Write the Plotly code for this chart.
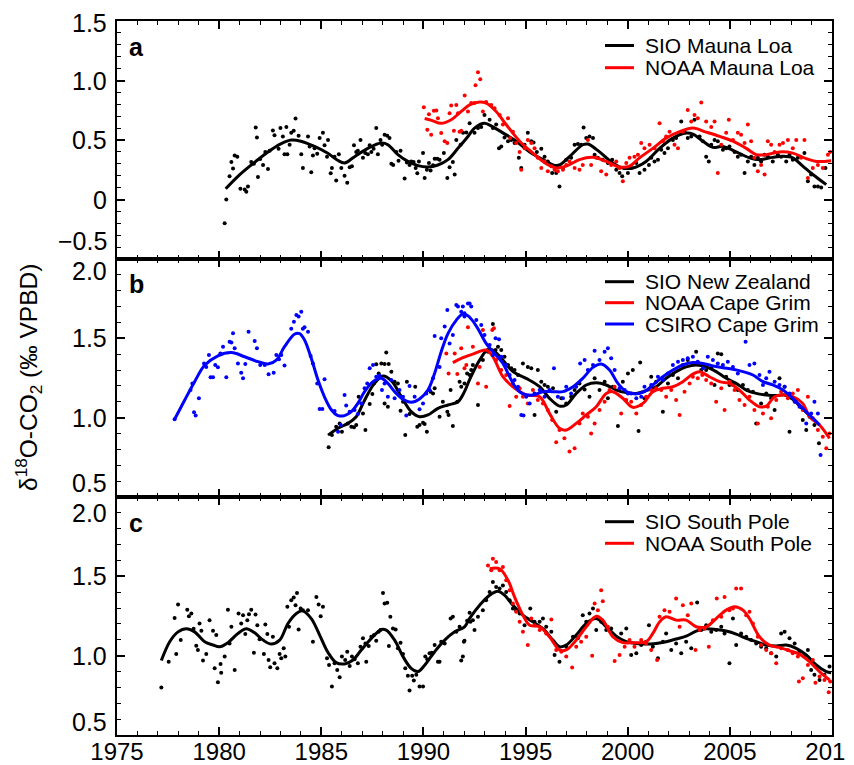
import plotly.graph_objects as go

# ---------------- DATA ----------------
# Panel a: Mauna Loa
ML_SIO_FIT = [(1980.32,0.09),(1980.92,0.195),(1981.57,0.29),(1982.39,0.40),(1983.04,0.47),(1983.53,0.50),(1984.0,0.49),
 (1984.67,0.446),(1985.3,0.39),(1985.8,0.33),(1986.14,0.307),(1986.63,0.36),(1987.28,0.43),(1987.94,0.474),(1988.26,0.46),
 (1988.75,0.377),(1989.24,0.32),(1989.73,0.285),(1990.22,0.273),(1990.71,0.29),(1991.2,0.335),(1991.69,0.43),(1992.18,0.53),
 (1992.5,0.60),(1992.99,0.64),(1993.4,0.61),(1993.89,0.56),(1994.54,0.49),(1995.2,0.40),(1995.85,0.335),(1996.42,0.287),
 (1996.66,0.29),(1997.15,0.36),(1997.8,0.46),(1998.05,0.466),(1998.62,0.40),(1999.27,0.307),(1999.76,0.265),(2000.25,0.265),
 (2000.9,0.32),(2001.56,0.43),(2002.21,0.516),(2002.86,0.558),(2003.19,0.55),(2003.68,0.49),(2004.17,0.438),(2004.66,0.446),
 (2005.31,0.40),(2005.96,0.35),(2006.45,0.335),(2007.1,0.354),(2007.6,0.363),(2008.08,0.35),(2008.57,0.28),(2009.06,0.21),
 (2009.72,0.125)]
ML_NOAA_FIT = [(1990.06,0.68),(1990.4,0.665),(1990.87,0.64),(1991.36,0.67),(1991.85,0.74),(1992.26,0.795),(1992.75,0.82),
 (1993.07,0.81),(1993.56,0.74),(1994.05,0.63),(1994.71,0.49),(1995.36,0.39),(1996.01,0.30),(1996.5,0.265),(1996.99,0.28),
 (1997.64,0.335),(1998.3,0.354),(1998.95,0.32),(1999.6,0.273),(2000.09,0.28),(2000.58,0.35),(2001.23,0.43),(2001.88,0.516),
 (2002.54,0.57),(2003.19,0.60),(2003.84,0.566),(2004.5,0.53),(2005.15,0.49),(2005.8,0.43),(2006.29,0.377),(2006.78,0.377),
 (2007.43,0.40),(2008.08,0.39),(2008.74,0.343),(2009.23,0.32),(2009.96,0.326)]
ML_SIO_PTS = [(1980.27,-0.20),(1980.35,0.0),(1980.51,0.195),(1980.6,0.315),(1980.68,0.26),(1980.76,0.37),(1980.89,0.36),
 (1981.04,0.09),(1981.25,0.085),(1981.33,0.065),(1981.41,0.11),(1981.57,0.315),(1981.7,0.30),(1981.79,0.605),(1981.85,0.52),
 (1981.9,0.19),(1982.01,0.34),(1982.15,0.29),(1982.26,0.40),(1982.39,0.257),(1982.47,0.41),(1982.63,0.58),(1982.71,0.54),
 (1982.91,0.427),(1983.0,0.60),(1983.12,0.53),(1983.2,0.38),(1983.29,0.61),(1983.34,0.38),(1983.45,0.46),(1983.53,0.56),
 (1983.65,0.577),(1983.74,0.68),(1983.89,0.535),(1984.02,0.38),(1984.1,0.265),(1984.35,0.53),(1984.43,0.446),(1984.51,0.23),
 (1984.59,0.37),(1984.67,0.43),(1984.8,0.385),(1984.92,0.516),(1985.08,0.56),(1985.16,0.455),(1985.28,0.36),(1985.33,0.50),
 (1985.46,0.22),(1985.52,0.265),(1985.65,0.36),(1985.73,0.16),(1985.86,0.38),(1985.98,0.265),(1986.14,0.20),(1986.27,0.14),
 (1986.39,0.27),(1986.5,0.28),(1986.6,0.455),(1986.71,0.40),(1986.79,0.41),(1986.92,0.50),(1987.04,0.35),(1987.15,0.39),
 (1987.28,0.38),(1987.37,0.455),(1987.45,0.40),(1987.56,0.427),(1987.69,0.60),(1987.77,0.38),(1987.9,0.50),(1987.98,0.46),
 (1988.1,0.544),(1988.23,0.535),(1988.34,0.516),(1988.43,0.30),(1988.52,0.29),(1988.67,0.40),(1988.78,0.326),(1988.88,0.41),
 (1989.08,0.176),(1989.19,0.31),(1989.32,0.29),(1989.4,0.32),(1989.52,0.315),(1989.62,0.265),(1989.7,0.22),(1989.78,0.32),
 (1989.98,0.39),(1990.06,0.18),(1990.17,0.25),(1990.27,0.307),(1990.35,0.243),(1990.47,0.287),(1990.55,0.343),(1990.68,0.343),
 (1990.79,0.335),(1991.0,0.39),(1991.17,0.18),(1991.28,0.27),(1991.44,0.315),(1991.53,0.21),(1991.61,0.50),(1991.82,0.46),
 (1991.94,0.56),(1992.1,0.563),(1992.26,0.64),(1992.5,0.56),(1992.67,0.60),(1992.83,0.61),(1992.99,0.71),(1993.24,0.67),
 (1993.4,0.60),(1993.56,0.63),(1993.7,0.43),(1993.81,0.446),(1993.97,0.52),(1994.14,0.49),(1994.3,0.50),(1994.46,0.474),
 (1994.67,0.35),(1994.79,0.265),(1994.95,0.46),(1995.11,0.56),(1995.28,0.49),(1995.39,0.48),(1995.55,0.40),(1995.77,0.427),
 (1995.93,0.36),(1996.09,0.32),(1996.3,0.223),(1996.5,0.223),(1996.66,0.11),(1996.83,0.265),(1996.99,0.335),(1997.23,0.35),
 (1997.4,0.46),(1997.56,0.466),(1997.72,0.46),(1997.84,0.605),(1997.97,0.516),(1998.13,0.53),(1998.3,0.516),(1998.38,0.377),
 (1998.54,0.35),(1998.78,0.335),(1999.03,0.307),(1999.24,0.335),(1999.44,0.25),(1999.6,0.223),(1999.73,0.195),(1999.85,0.265),
 (2000.01,0.223),(2000.17,0.265),(2000.42,0.307),(2000.58,0.223),(2000.82,0.25),(2001.04,0.29),(2001.15,0.35),(2001.31,0.32),
 (2001.48,0.335),(2001.64,0.418),(2001.8,0.39),(2001.97,0.43),(2002.21,0.50),(2002.37,0.516),(2002.62,0.655),(2002.78,0.57),
 (2002.94,0.516),(2003.11,0.53),(2003.27,0.67),(2003.52,0.53),(2003.68,0.49),(2003.84,0.36),(2003.97,0.32),(2004.09,0.46),
 (2004.25,0.50),(2004.41,0.49),(2004.66,0.418),(2004.82,0.43),(2004.98,0.446),(2005.23,0.40),(2005.39,0.36),(2005.55,0.377),
 (2005.72,0.223),(2005.88,0.32),(2006.04,0.36),(2006.2,0.29),(2006.37,0.35),(2006.53,0.32),(2006.7,0.377),(2006.86,0.36),
 (2007.1,0.32),(2007.35,0.377),(2007.51,0.36),(2007.76,0.32),(2007.92,0.377),(2008.08,0.335),(2008.33,0.35),(2008.65,0.39),
 (2008.82,0.153),(2008.98,0.21),(2009.14,0.11),(2009.31,0.11),(2009.47,0.10),(2009.68,0.265)]
ML_NOAA_PTS = [(1990.02,0.775),(1990.19,0.586),(1990.27,0.717),(1990.38,0.544),(1990.51,0.745),(1990.63,0.748),(1990.71,0.683),
 (1990.87,0.558),(1991.04,0.49),(1991.17,0.474),(1991.28,0.725),(1991.36,0.79),(1991.49,0.577),(1991.61,0.795),(1991.69,0.725),
 (1991.77,0.57),(1991.85,0.577),(1992.02,0.873),(1992.18,0.74),(1992.34,0.81),(1992.5,0.81),(1992.55,0.96),(1992.67,1.07),
 (1992.78,1.01),(1992.91,0.74),(1993.07,0.82),(1993.32,0.795),(1993.48,0.767),(1993.73,0.71),(1993.89,0.63),(1994.14,0.683),
 (1994.25,0.516),(1994.38,0.57),(1994.54,0.474),(1994.71,0.40),(1994.79,0.25),(1994.95,0.43),(1995.11,0.50),(1995.28,0.474),
 (1995.44,0.43),(1995.6,0.35),(1995.77,0.265),(1995.93,0.32),(1996.09,0.237),(1996.26,0.28),(1996.42,0.25),(1996.58,0.237),
 (1996.83,0.25),(1996.99,0.29),(1997.15,0.32),(1997.4,0.265),(1997.64,0.25),(1997.8,0.29),(1998.05,0.50),(1998.21,0.29),
 (1998.46,0.35),(1998.7,0.237),(1998.95,0.21),(1999.19,0.29),(1999.44,0.32),(1999.6,0.265),(1999.76,0.153),(1999.93,0.307),
 (2000.09,0.35),(2000.33,0.36),(2000.5,0.377),(2000.66,0.474),(2000.82,0.43),(2001.07,0.46),(2001.31,0.43),(2001.56,0.64),
 (2001.72,0.49),(2001.88,0.53),(2002.05,0.57),(2002.29,0.46),(2002.46,0.43),(2002.7,0.57),(2002.94,0.753),(2003.11,0.655),
 (2003.27,0.71),(2003.43,0.683),(2003.6,0.815),(2003.84,0.655),(2004.09,0.61),(2004.25,0.655),(2004.41,0.223),(2004.58,0.46),
 (2004.82,0.56),(2004.95,0.67),(2005.15,0.50),(2005.39,0.56),(2005.55,0.544),(2005.72,0.474),(2005.88,0.63),(2006.04,0.49),
 (2006.2,0.35),(2006.37,0.237),(2006.53,0.29),(2006.7,0.21),(2006.86,0.49),(2007.02,0.46),(2007.19,0.40),(2007.43,0.46),
 (2007.6,0.474),(2007.84,0.50),(2008.08,0.43),(2008.25,0.50),(2008.49,0.35),(2008.65,0.50),(2008.82,0.18),(2009.06,0.265),
 (2009.31,0.29),(2009.55,0.265),(2009.8,0.377),(2009.91,0.40)]

# Panel b: New Zealand / Cape Grim
NZ_SIO_FIT = [(1985.33,0.89),(1985.82,0.933),(1986.3,0.964),(1986.71,1.006),(1987.12,1.11),(1987.6,1.216),(1988.02,1.263),
 (1988.43,1.233),(1988.92,1.132),(1989.4,1.038),(1989.81,1.006),(1990.22,1.017),(1990.71,1.059),(1991.2,1.08),(1991.69,1.10),
 (1992.01,1.164),(1992.26,1.24),(1992.75,1.363),(1993.16,1.43),(1993.4,1.426),(1993.89,1.363),(1994.38,1.29),(1995.03,1.248),
 (1995.69,1.195),(1996.17,1.122),(1996.66,1.073),(1996.99,1.08),(1997.48,1.153),(1997.97,1.206),(1998.46,1.22),(1998.95,1.206),
 (1999.44,1.174),(1999.93,1.158),(2000.42,1.153),(2000.9,1.17),(2001.39,1.195),(2001.88,1.248),(2002.37,1.29),(2002.86,1.32),
 (2003.35,1.332),(2003.84,1.32),(2004.33,1.29),(2004.82,1.248),(2005.31,1.216),(2005.8,1.174),(2006.29,1.153),(2006.78,1.143),
 (2007.27,1.139),(2007.68,1.143),(2008.08,1.116),(2008.57,1.053),(2009.06,0.996),(2009.39,0.954)]
CG_NOAA_FIT = [(1991.44,1.347),(1991.85,1.374),(1992.42,1.40),(1993.07,1.426),(1993.4,1.384),(1993.89,1.258),(1994.38,1.195),
 (1995.03,1.143),(1995.69,1.132),(1996.17,1.027),(1996.66,0.933),(1996.99,0.922),(1997.48,0.964),(1997.97,1.017),(1998.46,1.069),
 (1998.95,1.153),(1999.27,1.164),(1999.76,1.122),(2000.25,1.065),(2000.74,1.09),(2001.23,1.164),(2001.72,1.185),(2002.21,1.195),
 (2002.7,1.227),(2003.19,1.275),(2003.52,1.29),(2004.0,1.258),(2004.5,1.227),(2004.98,1.216),(2005.47,1.174),(2005.96,1.111),
 (2006.45,1.069),(2006.78,1.073),(2007.19,1.132),(2007.6,1.143),(2008.08,1.132),(2008.57,1.09),(2008.9,1.006),(2009.39,0.954),
 (2009.88,0.87)]
CG_CSIRO_FIT = [(1977.82,0.99),(1978.31,1.11),(1978.8,1.227),(1979.29,1.33),(1979.94,1.39),(1980.6,1.41),(1981.25,1.384),
 (1981.9,1.353),(1982.39,1.338),(1982.8,1.363),(1983.2,1.447),(1983.7,1.527),(1983.94,1.53),(1984.18,1.49),(1984.51,1.374),
 (1984.84,1.237),(1985.16,1.13),(1985.49,1.05),(1985.82,1.013),(1986.14,1.013),(1986.47,1.038),(1986.79,1.09),(1987.12,1.164),
 (1987.53,1.227),(1987.94,1.248),(1988.26,1.216),(1988.59,1.164),(1989.0,1.116),(1989.4,1.097),(1989.81,1.118),(1990.22,1.174),
 (1990.55,1.28),(1990.87,1.416),(1991.2,1.53),(1991.61,1.615),(1991.95,1.655),(1992.2,1.64),(1992.5,1.595),(1992.75,1.542),
 (1993.07,1.468),(1993.4,1.416),(1993.89,1.342),(1994.22,1.258),(1994.54,1.185),(1994.87,1.15),(1995.36,1.143),(1995.85,1.164),
 (1996.34,1.164),(1996.83,1.164),(1997.32,1.195),(1997.8,1.248),(1998.3,1.317),(1998.7,1.338),(1999.11,1.30),(1999.52,1.216),
 (1999.93,1.164),(2000.33,1.15),(2000.82,1.164),(2001.23,1.206),(2001.72,1.258),(2002.21,1.30),(2002.7,1.332),(2003.19,1.347),
 (2003.68,1.342),(2004.17,1.326),(2004.66,1.315),(2005.15,1.305),(2005.64,1.29),(2006.13,1.269),(2006.62,1.227),(2007.1,1.206),
 (2007.6,1.174),(2008.08,1.122),(2008.57,1.059),(2009.06,0.996),(2009.39,0.954)]
NZ_SIO_PTS = [(1985.36,0.813),(1985.52,0.89),(1985.73,0.943),(1985.9,0.964),(1986.01,0.912),(1986.3,0.964),(1986.47,0.943),
 (1986.6,0.939),(1986.71,0.954),(1986.83,1.132),(1987.04,1.027),(1987.16,0.922),(1987.37,1.086),(1987.5,1.149),(1987.58,1.216),
 (1987.69,1.336),(1987.81,1.279),(1987.94,1.342),(1988.1,1.338),(1988.18,1.41),(1988.3,1.338),(1988.43,1.29),(1988.1,1.09),
 (1988.26,1.069),(1988.59,1.227),(1988.75,1.216),(1988.88,1.044),(1989.0,1.10),(1989.11,0.89),(1989.19,1.227),(1989.32,1.023),
 (1989.6,1.195),(1989.7,0.943),(1989.81,0.954),(1989.98,0.968),(1990.06,0.96),(1990.17,0.912),(1990.35,1.164),(1990.47,1.153),
 (1990.55,1.185),(1990.79,1.006),(1990.95,1.10),(1991.17,1.038),(1991.23,1.017),(1991.33,1.174),(1991.44,0.947),(1991.66,1.10),
 (1991.77,1.227),(1991.85,1.195),(1992.14,1.279),(1992.34,1.30),(1992.01,1.216),(1992.26,1.269),(1992.42,1.332),(1992.67,1.08),
 (1992.91,1.363),(1993.16,1.416),(1993.4,1.59),(1993.53,1.426),(1993.65,1.447),(1993.81,1.426),(1993.97,1.384),(1994.14,1.332),
 (1994.3,1.311),(1994.46,1.30),(1994.63,1.269),(1994.87,1.342),(1995.11,1.32),(1995.28,1.311),(1995.44,1.017),(1995.6,1.30),
 (1995.77,1.227),(1995.93,1.206),(1996.09,1.195),(1996.34,1.185),(1996.5,1.038),(1996.75,1.122),(1996.99,1.09),(1997.23,1.132),
 (1997.4,1.174),(1997.64,1.216),(1997.89,1.178),(1998.13,1.132),(1998.38,1.248),(1998.62,1.174),(1998.87,1.227),(1999.03,1.122),
 (1999.27,1.195),(1999.52,0.947),(1999.76,1.227),(2000.01,1.279),(2000.25,1.30),(2000.53,0.916),(2000.61,1.347),(2000.82,1.122),
 (2001.15,1.258),(2001.39,1.227),(2001.72,1.038),(2001.97,1.216),(2002.21,1.269),(2002.46,1.248),(2002.7,1.332),(2002.94,1.363),
 (2003.19,1.342),(2003.35,1.416),(2003.6,1.30),(2003.84,1.30),(2004.09,1.311),(2004.25,1.206),(2004.41,1.405),(2004.58,1.40),
 (2004.82,1.258),(2004.98,1.206),(2005.15,1.206),(2005.39,1.174),(2005.64,1.206),(2005.88,1.174),(2006.13,1.164),(2006.29,0.964),
 (2006.53,1.09),(2006.78,1.153),(2007.02,1.122),(2007.19,1.048),(2007.43,1.248),(2007.68,1.195),(2007.92,0.912),(2008.25,1.10),
 (2008.57,0.985),(2008.74,0.922),(2008.9,1.006),(2009.14,0.954),(2009.36,0.838)]
CG_NOAA_PTS = [(1991.12,1.405),(1991.23,1.279),(1991.53,1.405),(1991.66,1.275),(1991.85,1.437),(1992.01,1.311),(1992.18,1.57),
 (1992.1,1.332),(1992.42,1.447),(1992.67,1.216),(1992.75,1.32),(1992.91,1.553),(1993.07,1.195),(1993.37,1.553),(1993.45,1.563),
 (1993.56,1.363),(1993.81,1.30),(1994.05,1.269),(1994.22,1.073),(1994.38,1.216),(1994.54,1.132),(1994.71,1.185),(1994.87,1.132),
 (1995.11,1.09),(1995.36,1.174),(1995.6,1.111),(1995.85,1.09),(1996.09,1.048),(1996.3,0.985),(1996.5,0.845),(1996.66,0.922),
 (1996.9,0.87),(1997.15,0.786),(1997.4,0.807),(1997.64,0.964),(1997.8,1.027),(1998.05,1.006),(1998.21,0.90),(1998.38,0.964),
 (1998.62,1.048),(1998.87,1.10),(1999.11,1.174),(1999.36,1.195),(1999.68,1.027),(1999.93,1.111),(2000.17,1.10),(2000.42,1.027),
 (2000.66,1.08),(2000.9,1.132),(2001.15,1.174),(2001.39,1.185),(2001.64,1.174),(2001.88,1.132),(2002.13,1.174),(2002.37,1.111),
 (2002.54,1.017),(2002.78,1.164),(2003.03,1.216),(2003.19,1.258),(2003.43,1.248),(2003.65,1.269),(2003.84,1.237),(2004.09,1.216),
 (2004.33,1.10),(2004.58,1.185),(2004.74,1.048),(2004.98,1.227),(2005.23,1.174),(2005.47,1.111),(2005.72,1.08),(2005.96,1.132),
 (2006.2,1.048),(2006.37,0.964),(2006.62,1.027),(2006.86,1.069),(2007.02,0.996),(2007.27,1.111),(2007.51,1.164),(2007.84,1.122),
 (2008.08,1.153),(2008.33,1.174),(2008.57,1.048),(2008.82,1.132),(2009.06,0.996),(2009.31,0.922),(2009.55,0.88),(2009.72,0.807),
 (2009.88,0.90)]
CG_CSIRO_PTS = [(1977.82,0.99),(1978.6,1.174),(1978.69,1.216),(1978.77,1.034),(1978.85,1.013),(1979.01,1.122),(1979.26,1.342),
 (1979.37,1.32),(1979.5,1.395),(1979.58,1.254),(1979.7,1.254),(1979.81,1.332),(1979.94,1.317),(1980.06,1.405),(1980.19,1.447),
 (1980.35,1.254),(1980.51,1.479),(1980.6,1.473),(1980.68,1.532),(1980.76,1.437),(1980.92,1.342),(1981.08,1.283),(1981.17,1.248),
 (1981.28,1.338),(1981.44,1.542),(1981.74,1.483),(1981.85,1.437),(1982.01,1.332),(1982.23,1.332),(1982.42,1.273),(1982.67,1.283),
 (1982.8,1.395),(1982.93,1.368),(1983.04,1.395),(1983.2,1.328),(1983.53,1.56),(1983.66,1.605),(1983.78,1.647),(1983.89,1.637),
 (1984.02,1.668),(1984.1,1.56),(1984.18,1.57),(1984.35,1.542),(1984.48,1.389),(1984.59,1.342),(1984.8,1.216),(1984.92,1.055),
 (1985.05,1.055),(1985.16,1.242),(1985.65,1.042),(1985.82,0.912),(1985.95,0.954),(1986.14,1.143),(1986.22,1.076),(1986.39,1.038),
 (1986.63,1.048),(1986.79,1.023),(1986.96,1.09),(1987.12,1.185),(1987.25,1.216),(1987.37,1.311),(1987.53,1.332),(1987.69,1.258),
 (1987.85,1.265),(1987.97,1.174),(1988.1,1.216),(1988.26,1.132),(1988.43,1.237),(1988.59,1.122),(1988.83,1.174),(1989.0,1.132),
 (1989.16,1.013),(1989.32,1.20),(1989.57,1.132),(1989.81,1.053),(1989.98,1.09),(1990.14,1.153),(1990.3,1.174),(1990.47,1.248),
 (1990.55,1.515),(1990.79,1.32),(1990.87,1.50),(1991.04,1.574),(1991.17,1.679),(1991.28,1.468),(1991.44,1.521),(1991.61,1.71),
 (1991.69,1.70),(1991.85,1.668),(1992.01,1.658),(1992.26,1.72),(1991.93,1.70),(1992.18,1.72),(1992.34,1.70),(1992.01,1.637),
 (1992.59,1.615),(1992.83,1.584),(1992.99,1.521),(1993.24,1.458),(1993.53,1.50),(1993.7,1.494),(1993.4,1.395),(1993.81,1.384),
 (1994.05,1.332),(1994.22,1.269),(1994.46,1.237),(1994.63,1.195),(1994.79,1.017),(1994.9,1.013),(1995.03,1.132),(1995.2,1.09),
 (1995.44,1.153),(1995.69,1.174),(1995.93,1.132),(1996.17,1.174),(1996.39,1.311),(1996.58,1.132),(1996.83,1.122),(1996.99,1.195),
 (1997.23,1.153),(1997.48,1.195),(1997.67,1.342),(1997.89,1.363),(1998.05,1.30),(1998.3,1.332),(1998.38,1.422),(1998.62,1.363),
 (1998.87,1.416),(1999.03,1.437),(1999.19,1.374),(1999.36,1.30),(1999.6,1.185),(1999.85,1.174),(2000.01,1.153),(2000.17,1.153),
 (2000.42,1.122),(2000.66,1.132),(2000.82,1.195),(2001.15,1.206),(2001.48,1.258),(2001.72,1.237),(2001.97,1.279),(2002.21,1.332),
 (2002.46,1.353),(2002.7,1.363),(2002.94,1.374),(2003.19,1.384),(2003.43,1.353),(2003.68,1.311),(2003.92,1.384),(2004.17,1.363),
 (2004.41,1.342),(2004.66,1.332),(2004.9,1.353),(2005.15,1.32),(2005.39,1.279),(2005.77,1.479),(2005.96,1.332),(2006.2,1.342),
 (2006.45,1.269),(2006.62,1.206),(2006.78,1.248),(2006.94,1.29),(2007.19,1.227),(2007.43,1.206),(2007.68,1.195),(2007.92,1.153),
 (2008.17,1.10),(2008.41,1.069),(2008.74,0.964),(2008.98,1.027),(2009.14,1.10),(2009.31,1.027),(2009.44,0.765)]

# Panel c: South Pole
SP_SIO_FIT = [(1977.17,0.969),(1977.58,1.088),(1977.99,1.15),(1978.39,1.17),(1978.8,1.15),(1979.29,1.088),(1979.7,1.067),
 (1980.02,1.056),(1980.43,1.082),(1980.92,1.14),(1981.33,1.17),(1981.74,1.144),(1982.15,1.098),(1982.55,1.073),(1982.96,1.098),
 (1983.37,1.203),(1983.78,1.266),(1984.1,1.282),(1984.51,1.234),(1984.92,1.13),(1985.33,1.02),(1985.73,0.956),(1986.14,0.948),
 (1986.55,0.973),(1986.96,1.036),(1987.45,1.109),(1987.94,1.165),(1988.18,1.161),(1988.59,1.098),(1989.0,0.994),(1989.4,0.92),
 (1989.73,0.90),(1990.06,0.94),(1990.55,1.025),(1991.04,1.098),(1991.53,1.15),(1992.01,1.182),(1992.26,1.235),(1992.75,1.318),
 (1993.24,1.381),(1993.65,1.406),(1993.97,1.381),(1994.38,1.318),(1994.87,1.255),(1995.36,1.213),(1995.85,1.17),(1996.34,1.098),
 (1996.66,1.056),(1996.99,1.067),(1997.48,1.13),(1997.97,1.203),(1998.46,1.234),(1998.95,1.182),(1999.44,1.123),(1999.93,1.088),
 (2000.42,1.077),(2000.9,1.073),(2001.39,1.077),(2001.88,1.088),(2002.37,1.105),(2002.86,1.123),(2003.35,1.155),(2003.84,1.17),
 (2004.33,1.165),(2004.82,1.155),(2005.31,1.136),(2005.8,1.109),(2006.29,1.088),(2006.78,1.067),(2007.27,1.061),(2007.76,1.067),
 (2008.25,1.046),(2008.74,1.004),(2009.23,0.941),(2009.72,0.90),(2009.96,0.893)]
SP_NOAA_FIT = [(1993.24,1.548),(1993.73,1.548),(1994.14,1.475),(1994.46,1.37),(1994.87,1.255),(1995.2,1.192),(1995.69,1.182),
 (1996.17,1.119),(1996.66,1.036),(1996.99,1.036),(1997.48,1.098),(1997.97,1.182),(1998.46,1.249),(1998.78,1.224),(1999.27,1.119),
 (1999.76,1.082),(2000.25,1.082),(2000.9,1.088),(2001.23,1.14),(2001.56,1.213),(2001.88,1.245),(2002.37,1.224),(2002.86,1.224),
 (2003.35,1.182),(2003.84,1.182),(2004.33,1.234),(2004.82,1.287),(2005.23,1.308),(2005.64,1.287),(2005.96,1.234),(2006.45,1.119),
 (2006.94,1.067),(2007.43,1.052),(2007.92,1.031),(2008.41,1.01),(2008.9,0.962),(2009.39,0.90),(2009.88,0.847)]
SP_SIO_PTS = [(1977.17,0.80),(1977.53,0.962),(1977.82,1.238),(1977.9,1.01),(1977.99,1.322),(1978.12,1.098),(1978.44,1.29),
 (1978.52,1.249),(1978.64,1.266),(1978.75,1.17),(1978.88,1.063),(1978.96,1.036),(1979.04,1.203),(1979.13,1.157),(1979.21,0.969),
 (1979.37,1.01),(1979.53,1.224),(1979.7,1.157),(1979.78,0.92),(1979.86,1.13),(1979.94,0.833),(1980.07,0.948),(1980.1,0.893),
 (1980.27,0.994),(1980.43,1.29),(1980.51,1.077),(1980.6,1.182),(1980.76,0.91),(1980.95,1.266),(1981.08,1.203),(1981.17,1.255),
 (1981.28,1.136),(1981.38,1.224),(1981.46,1.261),(1981.57,1.29),(1981.7,1.019),(1981.78,1.259),(1981.87,1.192),(1981.98,1.103),
 (1982.19,1.01),(1982.26,1.197),(1982.36,1.136),(1982.42,0.973),(1982.5,0.927),(1982.63,1.119),(1982.71,0.952),(1982.85,0.92),
 (1982.96,1.01),(1983.04,0.983),(1983.16,1.046),(1983.24,0.994),(1983.34,1.308),(1983.42,1.182),(1983.53,1.349),(1983.65,1.366),
 (1983.74,1.318),(1983.81,1.395),(1983.89,1.165),(1983.99,1.297),(1984.1,1.287),(1984.35,1.287),(1984.59,1.088),(1984.76,1.37),
 (1984.87,1.322),(1984.97,1.249),(1985.08,1.308),(1985.28,0.983),(1985.38,0.941),(1985.52,0.805),(1985.65,0.952),(1985.78,0.91),
 (1985.9,0.864),(1986.01,0.994),(1986.17,0.973),(1986.27,1.025),(1986.39,0.935),(1986.5,0.994),(1986.63,0.977),(1986.79,0.952),
 (1986.92,1.056),(1987.04,1.109),(1987.16,1.077),(1987.2,0.962),(1987.32,1.061),(1987.45,1.119),(1987.58,1.13),(1987.69,1.094),
 (1987.81,1.151),(1987.9,1.161),(1988.02,1.395),(1988.1,1.328),(1988.23,1.333),(1988.31,1.061),(1988.38,1.245),(1988.51,1.172),
 (1988.64,1.165),(1988.75,1.046),(1988.88,1.082),(1989.0,1.01),(1989.11,0.92),(1989.24,0.874),(1989.32,0.78),(1989.45,0.874),
 (1989.53,0.843),(1989.65,0.879),(1989.81,0.805),(1989.98,0.805),(1990.09,0.994),(1990.19,0.977),(1990.3,1.015),(1990.41,1.019),
 (1990.55,1.067),(1990.71,0.962),(1990.79,0.962),(1990.87,1.088),(1991.04,1.077),(1991.33,1.234),(1991.44,1.245),(1991.61,1.151),
 (1991.77,1.182),(1991.85,0.969),(1991.98,1.088),(1992.14,1.22),(1992.26,1.27),(1992.42,1.224),(1991.93,0.994),(1992.01,1.094),
 (1992.3,1.213),(1992.5,1.161),(1992.67,1.245),(1992.91,1.287),(1993.07,1.349),(1993.24,1.402),(1993.4,1.464),(1993.56,1.433),
 (1993.73,1.423),(1993.89,1.443),(1994.05,1.402),(1994.22,1.349),(1994.38,1.297),(1994.54,1.287),(1994.71,1.266),(1994.95,1.192),
 (1995.23,1.297),(1995.44,1.213),(1995.69,1.213),(1995.85,1.234),(1996.01,1.182),(1996.26,1.151),(1996.42,1.004),(1996.66,0.962),
 (1996.99,1.056),(1997.32,1.119),(1997.56,1.109),(1997.8,1.255),(1997.97,1.213),(1998.13,1.266),(1998.3,1.297),(1998.46,1.161),
 (1998.7,1.213),(1998.95,1.161),(1999.19,1.172),(1999.44,1.109),(1999.68,1.14),(1999.93,1.172),(2000.17,1.004),(2000.42,1.015),
 (2000.66,1.067),(2000.9,1.088),(2001.04,1.192),(2001.23,1.056),(2001.48,0.983),(2001.72,1.088),(2001.88,1.14),(2002.13,1.036),
 (2002.37,1.077),(2002.62,1.015),(2002.86,1.088),(2003.11,1.046),(2003.4,1.335),(2003.6,1.161),(2003.84,1.192),(2004.09,1.151),
 (2004.33,1.161),(2004.58,1.182),(2004.74,1.14),(2004.98,0.952),(2005.15,1.234),(2005.31,1.067),(2005.55,1.14),(2005.8,1.119),
 (2006.04,1.098),(2006.29,1.077),(2006.53,1.056),(2006.78,1.046),(2007.02,1.015),(2007.27,0.994),(2007.51,1.14),(2007.68,1.151),
 (2007.92,1.109),(2008.17,1.077),(2008.41,1.025),(2008.65,0.994),(2008.82,1.036),(2008.98,0.91),(2009.14,0.879),(2009.39,0.847),
 (2009.63,0.879),(2009.88,0.931)]
SP_NOAA_PTS = [(1993.16,1.569),(1993.32,1.538),(1993.4,1.611),(1993.56,1.59),(1993.73,1.538),(1993.89,1.559),(1994.05,1.475),
 (1994.22,1.412),(1994.38,1.328),(1994.54,1.276),(1994.71,1.213),(1994.87,1.151),(1995.11,1.067),(1995.28,1.234),(1995.44,1.192),
 (1995.69,1.161),(1996.01,1.14),(1996.26,1.228),(1996.5,1.036),(1996.75,1.025),(1996.99,0.994),(1997.28,0.925),(1997.48,1.056),
 (1997.72,1.088),(1997.97,1.119),(1998.26,1.0),(1998.38,1.328),(1998.54,1.287),(1998.7,1.412),(1998.78,1.343),(1999.03,1.182),
 (1999.36,0.967),(1999.6,1.004),(1999.85,1.056),(2000.09,1.098),(2000.33,1.056),(2000.66,1.098),(2000.9,1.077),(2001.15,1.036),
 (2001.44,0.973),(2001.56,1.245),(2001.8,1.287),(2002.05,1.276),(2002.37,1.36),(2002.54,1.182),(2002.7,1.318),(2002.94,1.255),
 (2003.11,1.328),(2003.32,1.036),(2003.52,1.161),(2003.76,1.172),(2003.97,1.056),(2004.17,1.224),(2004.36,1.36),(2004.58,1.245),
 (2004.74,1.37),(2004.98,1.287),(2005.15,1.297),(2005.31,1.423),(2005.55,1.423),(2005.8,1.255),(2005.96,1.276),(2006.13,1.203),
 (2006.37,1.119),(2006.53,1.067),(2006.78,1.036),(2007.02,1.015),(2007.27,0.952),(2007.51,1.046),(2007.84,1.036),(2008.08,1.015),
 (2008.33,0.994),(2008.38,0.837),(2008.57,0.858),(2008.82,0.941),(2009.06,0.973),(2009.19,0.83),(2009.39,0.868),(2009.63,0.847),
 (2009.84,0.77),(2009.91,0.837)]

PANEL_LABELS = ["a", "b", "c"]
X_TICKS = [1975, 1980, 1985, 1990, 1995, 2000, 2005, 2010]
Y_TICKS_A = [-0.5, 0, 0.5, 1.0, 1.5]
Y_TEXT_A = ["\u22120.5", "0", "0.5", "1.0", "1.5"]
Y_TICKS_BC = [0.5, 1.0, 1.5, 2.0]
Y_TEXT_BC = ["0.5", "1.0", "1.5", "2.0"]
LEGEND_A = [("SIO Mauna Loa", "#000000"), ("NOAA Mauna Loa", "#ff0000")]
LEGEND_B = [("SIO New Zealand", "#000000"), ("NOAA Cape Grim", "#ff0000"), ("CSIRO Cape Grim", "#0000ff")]
LEGEND_C = [("SIO South Pole", "#000000"), ("NOAA South Pole", "#ff0000")]

# ---------------- FIGURE ----------------
FONT = "Liberation Sans, Arial, sans-serif"
BLACK, RED, BLUE = "#000000", "#ff0000", "#0000ff"
W, H = 854, 765
PAGE_OFF = 8                     # default body margin of the html page
# plot frame on screen: x 117..832, y 21..735
ML, MT = 117 - PAGE_OFF, 21 - PAGE_OFF
MR = (W + PAGE_OFF) - 832
MB = (H + PAGE_OFF) - 735
PW, PH = W - ML - MR, H - MT - MB
FX0, FY1 = 117, 735              # screen coords of frame left / bottom

def px2x(px):
    return (px - FX0) / PW

def px2y(py):
    return (FY1 - py) / PH

def xy(pts):
    return [p[0] for p in pts], [p[1] for p in pts]

fig = go.Figure()

def add_series(pts, fit, color, name, xa, ya):
    x, y = xy(pts)
    fig.add_trace(go.Scatter(x=x, y=y, mode="markers", marker=dict(size=4, color=color),
                             xaxis=xa, yaxis=ya, showlegend=False, hoverinfo="skip"))
    fx, fy = xy(fit)
    fig.add_trace(go.Scatter(x=fx, y=fy, mode="lines", line=dict(color=color, width=3, shape="spline", smoothing=1.0),
                             xaxis=xa, yaxis=ya, name=name, showlegend=False))

add_series(ML_SIO_PTS, ML_SIO_FIT, BLACK, "SIO Mauna Loa", "x3", "y3")
add_series(ML_NOAA_PTS, ML_NOAA_FIT, RED, "NOAA Mauna Loa", "x3", "y3")
add_series(NZ_SIO_PTS, NZ_SIO_FIT, BLACK, "SIO New Zealand", "x2", "y2")
add_series(CG_NOAA_PTS, CG_NOAA_FIT, RED, "NOAA Cape Grim", "x2", "y2")
add_series(CG_CSIRO_PTS, CG_CSIRO_FIT, BLUE, "CSIRO Cape Grim", "x2", "y2")
add_series(SP_SIO_PTS, SP_SIO_FIT, BLACK, "SIO South Pole", "x", "y")
add_series(SP_NOAA_PTS, SP_NOAA_FIT, RED, "NOAA South Pole", "x", "y")

axis_common = dict(showline=True, linecolor="black", linewidth=1.5, mirror="ticks", ticks="inside",
                   ticklen=8, tickwidth=1.5, tickcolor="black", showgrid=False, zeroline=False)
xcommon = dict(axis_common, range=[1975, 2010], tickvals=X_TICKS, ticklabeloverflow="allow",
               minor=dict(ticks="inside", ticklen=4, tickwidth=1.2, tickcolor="black", dtick=1, tick0=1975, showgrid=False))
ycommon = dict(axis_common, showticklabels=False, tick0=0, dtick=0.5,
               minor=dict(ticks="inside", ticklen=4, tickwidth=1.2, tickcolor="black", dtick=0.1, tick0=0, showgrid=False))

D = 1/3
fig.update_layout(
    width=W, height=H, paper_bgcolor="white", plot_bgcolor="white",
    margin=dict(l=ML, r=MR, t=MT, b=MB, autoexpand=False), showlegend=False,
    font=dict(family=FONT, size=24, color="black"),
    xaxis=dict(xcommon, anchor="y", domain=[0, 1], showticklabels=True, tickfont=dict(size=24),
               ticklabelstandoff=-6),
    xaxis2=dict(xcommon, anchor="y2", domain=[0, 1], matches="x", showticklabels=False),
    xaxis3=dict(xcommon, anchor="y3", domain=[0, 1], matches="x", showticklabels=False),
    yaxis=dict(ycommon, anchor="x", domain=[0, D], range=[0.5, 2.0]),
    yaxis2=dict(ycommon, anchor="x2", domain=[D, 2*D], range=[0.5, 2.0]),
    yaxis3=dict(ycommon, anchor="x3", domain=[2*D, 1], range=[-0.5, 1.5]),
)

annotations, shapes = [], []

def ylabels(vals, texts, yref, shifts):
    for v, t, s in zip(vals, texts, shifts):
        annotations.append(dict(x=0, xref="paper", y=v, yref=yref, text=t, showarrow=False,
                                xanchor="right", yanchor="middle", xshift=-8, yshift=s,
                                font=dict(family=FONT, size=25, color="black")))
ylabels(Y_TICKS_A, Y_TEXT_A, "y3", [18, 0, 0, 0, -2])
ylabels(Y_TICKS_BC, Y_TEXT_BC, "y2", [14, 0, 0, -12])
ylabels(Y_TICKS_BC, Y_TEXT_BC, "y", [13, 0, 0, -16])

# panel letters
for lab, py in zip(PANEL_LABELS, [47.5, 283.5, 523]):
    annotations.append(dict(x=px2x(127), xref="paper", y=px2y(py), yref="paper", text="<b>%s</b>" % lab,
                            showarrow=False, xanchor="left", yanchor="middle",
                            font=dict(family=FONT, size=25, color="black")))

# legends (one per panel)
def legend(entries, rows_py):
    for (name, col), py in zip(entries, rows_py):
        shapes.append(dict(type="line", xref="paper", yref="paper", x0=px2x(605), x1=px2x(634),
                           y0=px2y(py), y1=px2y(py), line=dict(color=col, width=3)))
        annotations.append(dict(x=px2x(643), xref="paper", y=px2y(py), yref="paper", text=name,
                                showarrow=False, xanchor="left", yanchor="middle",
                                font=dict(family=FONT, size=21, color="black")))
legend(LEGEND_A, [45.5, 67.7])
legend(LEGEND_B, [281.7, 302.7, 324.0])
legend(LEGEND_C, [521.7, 543.3])

# y-axis title
annotations.append(dict(x=px2x(28), xref="paper", y=0.5, yref="paper", textangle=-90, showarrow=False,
                        text="\u03b4<sup>18</sup>O-CO<sub>2</sub> (\u2030 VPBD)",
                        xanchor="center", yanchor="middle", font=dict(family=FONT, size=24.5, color="black")))
fig.update_layout(annotations=annotations, shapes=shapes)

fig.write_html("out.html")
